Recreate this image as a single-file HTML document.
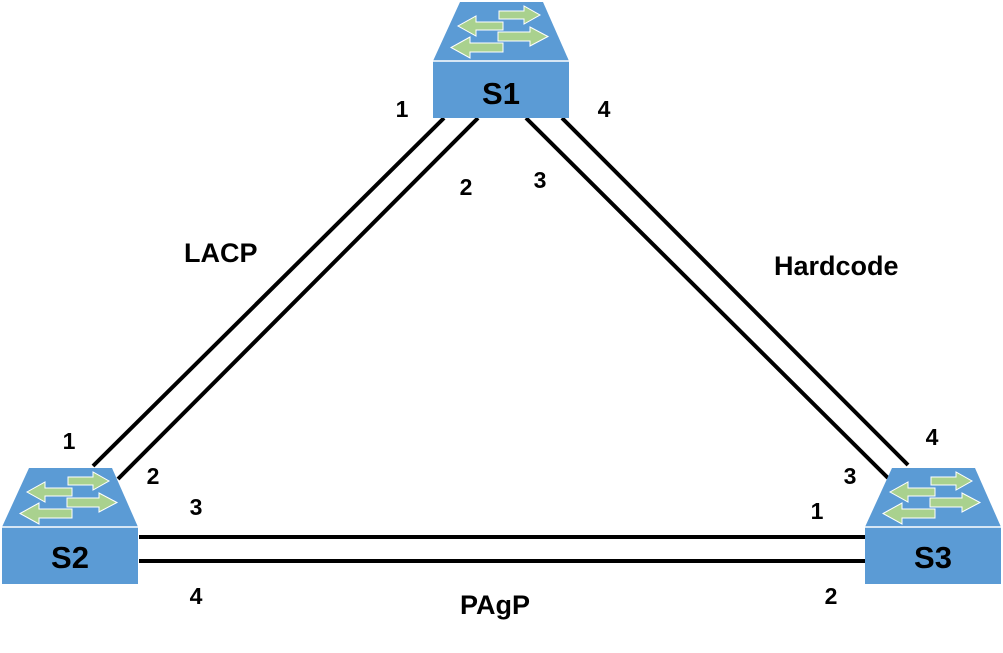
<!DOCTYPE html>
<html><head><meta charset="utf-8"><style>
html,body{margin:0;padding:0;background:#fff;}
svg{display:block}
text{font-family:"Liberation Sans",sans-serif;font-weight:bold;fill:#000}
</style></head><body>
<svg width="1003" height="653" viewBox="0 0 1003 653" xmlns="http://www.w3.org/2000/svg">
<defs>
<g id="sw">
<polygon points="27,0 110,0 136,59 0,59" fill="#5b9bd5"/>
<rect x="0" y="59" width="136" height="57" fill="#5b9bd5"/>
<line x1="0" y1="59" x2="136" y2="59" stroke="#fff" stroke-width="1.5"/>
<g fill="#a9d18e" stroke="#fff" stroke-width="1">
<polygon points="66,9 91,9 91,4 107,13 91,22 91,17 66,17"/>
<polygon points="65,30 97,30 97,25 115,34.5 97,44 97,39 65,39"/>
<polygon points="70,20 43,20 43,14 25,24 43,34 43,28 70,28"/>
<polygon points="70,41 37,41 37,35 18,45.5 37,56 37,50 70,50"/>
</g>
</g>
</defs>
<g stroke="#000" stroke-width="4">
<line x1="444" y1="118" x2="93" y2="466"/>
<line x1="478" y1="118" x2="118" y2="479"/>
<line x1="526" y1="118" x2="888" y2="478"/>
<line x1="562" y1="118" x2="908" y2="465"/>
<line x1="139" y1="537" x2="865" y2="537"/>
<line x1="139" y1="561" x2="865" y2="561"/>
</g>
<use href="#sw" x="433" y="2"/>
<use href="#sw" x="2" y="468"/>
<use href="#sw" x="865" y="468"/>
<g font-size="31" text-anchor="middle">
<text x="501" y="104">S1</text>
<text x="70" y="568">S2</text>
<text x="933" y="568">S3</text>
</g>
<g font-size="23" text-anchor="middle">
<text x="402" y="117">1</text>
<text x="604" y="117">4</text>
<text x="466" y="195">2</text>
<text x="540" y="188">3</text>
<text x="69" y="449">1</text>
<text x="153" y="484">2</text>
<text x="196" y="515">3</text>
<text x="196" y="604">4</text>
<text x="817" y="519">1</text>
<text x="831" y="604">2</text>
<text x="850" y="484">3</text>
<text x="932" y="445">4</text>
</g>
<g font-size="27">
<text x="184" y="262">LACP</text>
<text x="774" y="275">Hardcode</text>
<text x="460" y="614">PAgP</text>
</g>
</svg>
</body></html>
